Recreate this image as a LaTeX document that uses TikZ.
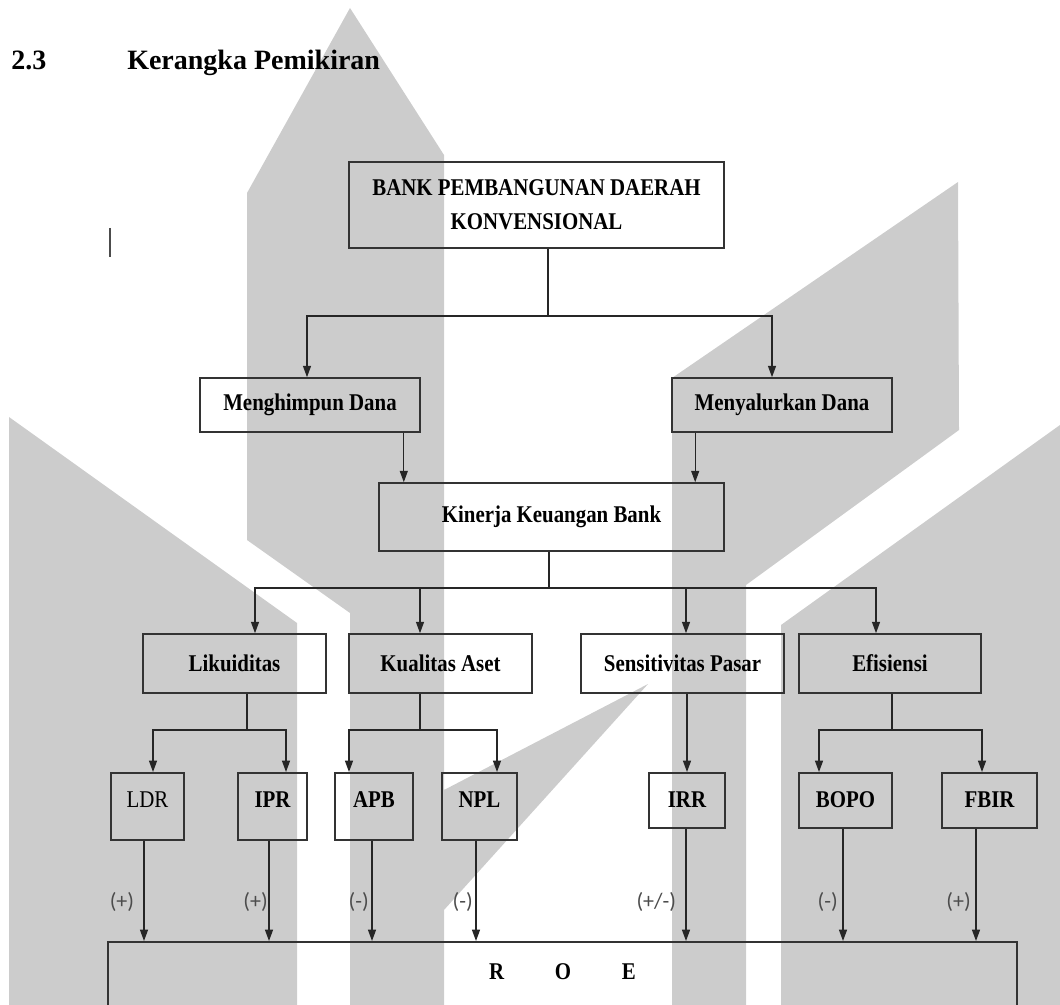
\documentclass[tikz,border=0pt]{standalone}
\usepackage{fontspec}
\setmainfont{Liberation Serif}
\newfontfamily\boxfont[FakeStretch=0.87]{Liberation Serif}
\newfontfamily\signfont{Carlito}
\usetikzlibrary{arrows.meta,calc}

\begin{document}
\begin{tikzpicture}[x=0.75pt, y=-0.75pt, >={Triangle[length=8.5pt,width=6pt]}]
% Define the node styles
\tikzstyle{box} = [draw=black!80, line width=1.2pt, rectangle, inner sep=0pt, font=\boxfont\bfseries\fontsize{18pt}{25.5pt}\selectfont]
\tikzstyle{group} = [box, minimum height=44.25pt]
\tikzstyle{ratio} = [box, anchor=north, inner ysep=0pt, text height=25.9pt]
\tikzstyle{ratiolong} = [ratio, text depth=24.4pt]
\tikzstyle{ratioshort} = [ratio, text depth=15.4pt]
\tikzstyle{sign} = [font=\signfont\fontsize{16.5pt}{19pt}\selectfont, text=black!70, inner sep=2pt]
\tikzstyle{wm} = [fill=black!20]

\useasboundingbox (0,0) rectangle (1060,1005);

% Background watermark
\fill[wm] (350,8) -- (444,155) -- (444,790) -- (648,684) -- (444,910) -- (444,1005)
  -- (350,1005) -- (350,613) -- (247,540) -- (247,193) -- cycle;
\fill[wm] (9,417) -- (297,623) -- (297,1005) -- (9,1005) -- cycle;
\fill[wm] (958,182) -- (959,430) -- (746,585) -- (746,1005) -- (672,1005) -- (672,378) -- cycle;
\fill[wm] (1060,425) -- (781,625) -- (781,1005) -- (1060,1005) -- cycle;
\draw[black!70, line width=1.5pt] (110,228) -- (110,257);

% Heading
\node[anchor=base west, inner sep=0pt, font=\bfseries\fontsize{21pt}{25pt}\selectfont] (num) at (11,70) {2.3};
\node[anchor=base west, inner sep=0pt, font=\bfseries\fontsize{21pt}{25pt}\selectfont] (title) at (127,70) {Kerangka Pemikiran};

% Define the nodes
\node[box, minimum width=281.25pt, minimum height=64.5pt, align=center] (BPD) at (536.5,205) {BANK PEMBANGUNAN DAERAH\\KONVENSIONAL};
\node[box, minimum width=165pt, minimum height=40.5pt] (MH) at (310,405) {Menghimpun Dana};
\node[box, minimum width=165pt, minimum height=40.5pt] (MY) at (782,405) {Menyalurkan Dana};
\node[box, minimum width=258.75pt, minimum height=51pt] (Kin) at (551.5,517) {Kinerja Keuangan Bank};

\node[group, minimum width=137.25pt] (Lik) at (234.5,663.5) {Likuiditas};
\node[group, minimum width=137.25pt] (Kual) at (440.5,663.5) {Kualitas Aset};
\node[group, minimum width=152.25pt] (Sens) at (682.5,663.5) {Sensitivitas Pasar};
\node[group, minimum width=136.5pt] (Efis) at (890,663.5) {Efisiensi};

\node[ratiolong, minimum width=54.75pt, font=\boxfont\fontsize{18pt}{25.5pt}\selectfont] (LDR) at (147.5,772) {LDR};
\node[ratiolong, minimum width=51.75pt] (IPR) at (272.5,772) {IPR};
\node[ratiolong, minimum width=58.5pt] (APB) at (374,772) {APB};
\node[ratiolong, minimum width=56.25pt] (NPL) at (479.5,772) {NPL};
\node[ratioshort, minimum width=57pt] (IRR) at (687,772) {IRR};
\node[ratioshort, minimum width=69.75pt] (BOPO) at (845.5,772) {BOPO};
\node[ratioshort, minimum width=71.25pt] (FBIR) at (989.5,772) {FBIR};

\node[box, anchor=north, minimum width=681.75pt, inner ysep=0pt, text height=28.1pt, text depth=45pt] (ROE) at (562.5,941) {R\hspace{38pt}O\hspace{38pt}E};

% Define the connections
\coordinate (j1) at (548,316);
\draw[black!85, line width=0.9pt] (j1 |- BPD.south) -- (j1);
\draw[->, black!85, line width=0.9pt] (j1) -| ($(MH.north)+(-3,0)$);
\draw[->, black!85, line width=0.9pt] (j1) -| ($(MY.north)+(-10,0)$);

\draw[->, black!85, line width=0.9pt] (MH.south east) ++(-17,0) coordinate (m1) -- (m1 |- Kin.north);
\draw[->, black!85, line width=0.9pt] (MY.south west) ++(24,0) coordinate (m2) -- (m2 |- Kin.north);

\coordinate (j2) at (549,588);
\draw[black!85, line width=0.9pt] (j2 |- Kin.south) -- (j2);
\draw[->, black!85, line width=0.9pt] (j2) -| ($(Lik.north)+(20.5,0)$);
\draw[->, black!85, line width=0.9pt] (j2) -| ($(Kual.north)+(-20.5,0)$);
\draw[->, black!85, line width=0.9pt] (j2) -| ($(Sens.north)+(3.5,0)$);
\draw[->, black!85, line width=0.9pt] (j2) -| ($(Efis.north)+(-14,0)$);

\coordinate (j3) at (247,730);
\draw[black!85, line width=0.9pt] (j3 |- Lik.south) -- (j3);
\draw[->, black!85, line width=0.9pt] (j3) -| ($(LDR.north)+(5.5,0)$);
\draw[->, black!85, line width=0.9pt] (j3) -| ($(IPR.north)+(13.5,0)$);

\coordinate (j4) at (420,730);
\draw[black!85, line width=0.9pt] (j4 |- Kual.south) -- (j4);
\draw[->, black!85, line width=0.9pt] (j4) -| ($(APB.north)+(-25,0)$);
\draw[->, black!85, line width=0.9pt] (j4) -| ($(NPL.north)+(17.5,0)$);

\draw[->, black!85, line width=0.9pt] (IRR.north |- Sens.south) -- (IRR.north);

\coordinate (j5) at (892,730);
\draw[black!85, line width=0.9pt] (j5 |- Efis.south) -- (j5);
\draw[->, black!85, line width=0.9pt] (j5) -| ($(BOPO.north)+(-26.5,0)$);
\draw[->, black!85, line width=0.9pt] (j5) -| ($(FBIR.north)+(-7.5,0)$);

% Effects on ROE
\draw[->, black!85, line width=0.9pt] (LDR.south) ++(-3.5,0) coordinate (e1) -- node[sign, left, pos=0.61, inner sep=7pt] {(+)} (e1 |- ROE.north);
\draw[->, black!85, line width=0.9pt] (IPR.south) ++(-3.5,0) coordinate (e2) -- node[sign, left, pos=0.61, inner sep=0.5pt] {(+)} (e2 |- ROE.north);
\draw[->, black!85, line width=0.9pt] (APB.south) ++(-2,0) coordinate (e3) -- node[sign, left, pos=0.61] {(-)} (e3 |- ROE.north);
\draw[->, black!85, line width=0.9pt] (NPL.south) ++(-3.5,0) coordinate (e4) -- node[sign, left, pos=0.61] {(-)} (e4 |- ROE.north);
\draw[->, black!85, line width=0.9pt] (IRR.south) ++(-1,0) coordinate (e5) -- node[sign, left, pos=0.65, inner sep=7pt] {(+/-)} (e5 |- ROE.north);
\draw[->, black!85, line width=0.9pt] (BOPO.south) ++(-2.5,0) coordinate (e6) -- node[sign, left, pos=0.65, inner sep=3.5pt] {(-)} (e6 |- ROE.north);
\draw[->, black!85, line width=0.9pt] (FBIR.south) ++(-13.5,0) coordinate (e7) -- node[sign, left, pos=0.65, inner sep=3.5pt] {(+)} (e7 |- ROE.north);

\end{tikzpicture}
\end{document}
